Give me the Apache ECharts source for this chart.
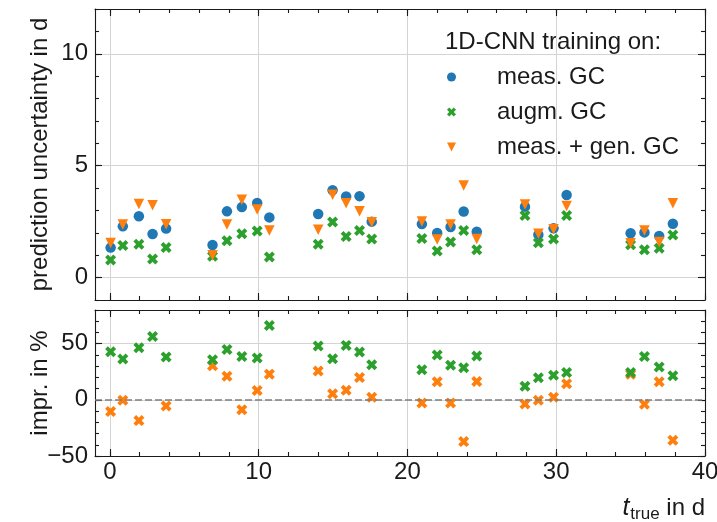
<!DOCTYPE html>
<html>
<head>
<meta charset="utf-8">
<script src="https://cdn.jsdelivr.net/npm/echarts@6/dist/echarts.min.js"></script>
<style>
  html, body { margin: 0; padding: 0; background: #fff; }
  #chart { width: 717px; height: 522px; }
</style>
</head>
<body>
<div id="chart"></div>
<script>
// true time to event (days) of each evaluated sample
const tTrue = [0.05, 0.87, 1.95, 2.87, 3.78,
               6.9, 7.87, 8.87, 9.9, 10.72,
               14.0, 14.97, 15.88, 16.78, 17.6,
               20.97, 22.0, 22.9, 23.78, 24.66,
               27.9, 28.8, 29.82, 30.7,
               35.0, 35.93, 36.92, 37.84];

// prediction uncertainty in days, per training set
const uncMeas = [1.34, 2.29, 2.74, 1.95, 2.19,
                 1.46, 2.96, 3.15, 3.33, 2.69,
                 2.84, 3.9, 3.62, 3.64, 2.5,
                 2.39, 1.99, 2.26, 2.95, 2.05,
                 3.17, 1.92, 2.2, 3.69,
                 1.98, 2.02, 1.86, 2.41];
const uncAugm = [0.79, 1.43, 1.49, 0.83, 1.35,
                 0.95, 1.65, 1.96, 2.08, 0.92,
                 1.49, 2.48, 1.84, 2.1, 1.72,
                 1.75, 1.19, 1.59, 2.11, 1.25,
                 2.78, 1.56, 1.72, 2.78,
                 1.47, 1.25, 1.31, 1.9];
const uncGen = [1.55, 2.37, 3.29, 3.23, 2.38,
                1.0, 2.37, 3.48, 3.04, 2.11,
                2.14, 3.7, 3.32, 2.97, 2.47,
                2.51, 1.7, 2.37, 4.11, 1.72,
                3.27, 1.96, 2.16, 3.2,
                1.54, 2.11, 1.59, 3.32];

// improvement relative to training on measured GC only, in %
const imprAugm = [42.9, 36.3, 46.4, 56.5, 38.1,
                  35.7, 44.9, 38.7, 37.2, 66.1,
                  47.9, 36.6, 48.5, 42.6, 31.3,
                  26.8, 39.9, 30.7, 28.6, 39.0,
                  12.2, 19.6, 22.0, 24.4,
                  24.4, 38.7, 29.2, 21.4];
const imprGen = [-10.4, -0.3, -18.5, -65.6, -5.4,
                 30.4, 21.1, -8.9, 8.3, 22.9,
                 25.6, 5.4, 8.6, 19.9, 2.4,
                 -2.9, 16.1, -2.9, -37.2, 16.3,
                 -3.6, -0.3, 2.4, 14.3,
                 22.9, -3.9, 16.1, -36.0];

// series names and legend title
const seriesNames = ['meas. GC', 'augm. GC', 'meas. + gen. GC'];
const legendTitle = '1D-CNN training on:';

// axis ranges and tick positions
const tRange = [-1, 40];
const uncRange = [-1, 12];
const imprRange = [-50, 80];
const tMajor = [0, 10, 20, 30, 40];
const tMinor = [0, 2, 4, 6, 8, 10, 12, 14, 16, 18, 20, 22, 24, 26, 28, 30, 32, 34, 36, 38, 40];
const uncMajor = [0, 5, 10];
const uncMinor = [-1, 0, 1, 2, 3, 4, 5, 6, 7, 8, 9, 10, 11, 12];
const imprMajor = [-50, 0, 50];
const imprMinor = [-50, -40, -30, -20, -10, 0, 10, 20, 30, 40, 50, 60, 70, 80];

const FONT = '"Liberation Sans", Arial, sans-serif';
const FS = 24;
const INK = '#1a1a1a';
const GRIDC = '#d4d4d4';
const BLUE = '#1f77b4', ORANGE = '#ff7f0e', GREEN = '#2ca02c';
// filled "X" marker (plus rotated by 45 degrees) and downward triangle
const X_MARK = 'path://M26.4 97.1L50 73.6L73.6 97.1L97.1 73.6L73.6 50L97.1 26.4L73.6 2.9L50 26.4L26.4 2.9L2.9 26.4L26.4 50L2.9 73.6Z';
const TRI_DOWN = 'path://M0 0L100 0L50 100Z';

function fmtNum(v) { return String(v).replace('-', '\u2212'); }

// one value axis drawing either major or minor inward ticks on one side
function makeAxis(grid, pos, range, ticks, major, opts) {
  return Object.assign({
    type: 'value', gridIndex: grid, position: pos,
    min: range[0], max: range[1],
    axisLine: { show: major, onZero: false, lineStyle: { color: INK, width: 1.1 } },
    axisTick: { show: true, inside: true, length: major ? 7 : 4, customValues: ticks,
                lineStyle: { color: INK, width: 1.1 } },
    axisLabel: { show: false, customValues: ticks },
    splitLine: { show: false },
    minorTick: { show: false }
  }, opts || {});
}

const labelStyle = (margin) => ({
  show: true, margin: margin, color: INK,
  fontFamily: FONT, fontSize: FS, formatter: fmtNum
});
const gridLines = { show: true, lineStyle: { color: GRIDC, width: 1 } };

const xAxes = [];
const yAxes = [];
const axisIdx = {};
function addAxes(grid, xRange, yRange, yMaj, yMin, showXLabels) {
  const xi = xAxes.length, yi = yAxes.length;
  axisIdx[grid] = { x: xi, y: yi };
  const xMain = makeAxis(grid, 'bottom', xRange, tMajor, true, { splitLine: gridLines });
  if (showXLabels) xMain.axisLabel = Object.assign(labelStyle(4), { customValues: tMajor });
  xAxes.push(xMain,
    makeAxis(grid, 'bottom', xRange, tMinor, false),
    makeAxis(grid, 'top', xRange, tMajor, true),
    makeAxis(grid, 'top', xRange, tMinor, false));
  const yMainAx = makeAxis(grid, 'left', yRange, yMaj, true, { splitLine: gridLines });
  yMainAx.axisLabel = Object.assign(labelStyle(7), { customValues: yMaj });
  yAxes.push(yMainAx,
    makeAxis(grid, 'left', yRange, yMin, false),
    makeAxis(grid, 'right', yRange, yMaj, true),
    makeAxis(grid, 'right', yRange, yMin, false));
}
addAxes(0, tRange, uncRange, uncMajor, uncMinor, false);
addAxes(1, tRange, imprRange, imprMajor, imprMinor, true);

const pairs = (ys) => tTrue.map((t, i) => [t, ys[i]]);

function scatter(name, grid, ys, color, symbol, size, z) {
  return {
    type: 'scatter', name: name,
    xAxisIndex: axisIdx[grid].x, yAxisIndex: axisIdx[grid].y,
    data: pairs(ys), symbol: symbol, symbolSize: size,
    itemStyle: { color: color, opacity: 1 }, z: z, clip: true,
    emphasis: { disabled: true }
  };
}

const option = {
  animation: false,
  backgroundColor: '#fff',
  textStyle: { fontFamily: FONT },
  grid: [
    { left: 95, top: 9, width: 610, height: 291, outerBoundsMode: 'none', containLabel: false },
    { left: 95, top: 310, width: 610, height: 146, outerBoundsMode: 'none', containLabel: false }
  ],
  xAxis: xAxes,
  yAxis: yAxes,
  legend: {
    orient: 'vertical', left: 442, top: 59,
    itemWidth: 9, itemHeight: 9, itemGap: 9,
    selectedMode: false,
    data: [
      { name: seriesNames[0], icon: 'circle' },
      { name: seriesNames[1], icon: X_MARK },
      { name: seriesNames[2], icon: TRI_DOWN }
    ],
    textStyle: { fontFamily: FONT, fontSize: FS, color: INK, lineHeight: 26, padding: [0, 0, 0, 36] }
  },
  series: [
    scatter(seriesNames[0], 0, uncMeas, BLUE, 'circle', 10.5, 3),
    scatter(seriesNames[1], 0, uncAugm, GREEN, X_MARK, 11, 4),
    scatter(seriesNames[2], 0, uncGen, ORANGE, TRI_DOWN, 10.5, 5),
    {
      type: 'line', name: 'zero', data: [],
      xAxisIndex: axisIdx[1].x, yAxisIndex: axisIdx[1].y, z: 2,
      markLine: {
        silent: true, symbol: 'none', animation: false,
        label: { show: false },
        lineStyle: { color: '#7f7f7f', type: [7, 3], width: 1.6 },
        data: [{ yAxis: 0 }]
      }
    },
    scatter('impr. gen', 1, imprGen, ORANGE, X_MARK, 11, 4),
    scatter('impr. augm', 1, imprAugm, GREEN, X_MARK, 11, 5)
  ],
  graphic: [
    { type: 'text', x: 445, y: 42, style: { text: legendTitle, fill: INK,
      font: FS + 'px ' + FONT, align: 'left', verticalAlign: 'middle' } },
    { type: 'text', x: 40, y: 154.5, rotation: Math.PI / 2, style: { text: 'prediction uncertainty in d',
      fill: INK, font: FS + 'px ' + FONT, align: 'center', verticalAlign: 'middle' } },
    { type: 'text', x: 40, y: 383, rotation: Math.PI / 2, style: { text: 'impr. in %',
      fill: INK, font: FS + 'px ' + FONT, align: 'center', verticalAlign: 'middle' } },
    { type: 'text', x: 705, y: 508, style: {
      text: '{t|t}{s|true}{n| in d}', align: 'right', verticalAlign: 'middle', fill: INK,
      rich: {
        t: { fontFamily: FONT, fontSize: 25, fontStyle: 'italic', fill: INK, lineHeight: 26 },
        s: { fontFamily: FONT, fontSize: 17, fill: INK, padding: [12, 0, 0, 1] },
        n: { fontFamily: FONT, fontSize: FS, fill: INK, lineHeight: 26 }
      } } }
  ]
};

const chart = echarts.init(document.getElementById('chart'), null, { renderer: 'canvas' });
chart.setOption(option);
</script>
</body>
</html>
